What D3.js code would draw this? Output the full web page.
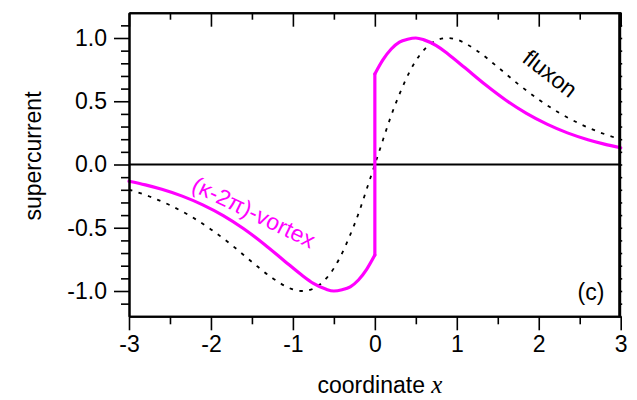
<!DOCTYPE html>
<html>
<head>
<meta charset="utf-8">
<script src="https://cdn.jsdelivr.net/npm/d3@7"></script>
<style>
  html, body { margin: 0; padding: 0; background: #fff; }
  svg { display: block; font-family: "Liberation Sans", Arial, sans-serif; }
</style>
</head>
<body>
<svg id="chart" width="637" height="400"></svg>
<script>
// Fluxon supercurrent profile (dotted black)
const fluxonX = [-3, -2.75, -2.5, -2.25, -2, -1.75, -1.5, -1.25, -1, -0.88, -0.75, -0.5, -0.25, 0,
                 0.25, 0.5, 0.75, 0.88, 1, 1.25, 1.5, 1.75, 2, 2.25, 2.5, 2.75, 3];
const fluxonY = [-0.198, -0.253, -0.322, -0.408, -0.513, -0.635, -0.770, -0.898, -0.987, -1.0, -0.981, -0.820, -0.475, 0,
                 0.475, 0.820, 0.981, 1.0, 0.987, 0.898, 0.770, 0.635, 0.513, 0.408, 0.322, 0.253, 0.198];

// (κ-2π)-vortex supercurrent, left branch (x < 0) and right branch (x > 0)
const vortexLeftX = [-3, -2.8, -2.6, -2.35, -2.1, -1.85, -1.6, -1.35, -1.1, -0.9, -0.75, -0.6, -0.5, -0.4, -0.3, -0.2, -0.1, 0];
const vortexLeftY = [-0.132, -0.161, -0.196, -0.250, -0.319, -0.404, -0.508, -0.630, -0.764, -0.870, -0.940, -0.985, -1.0, -0.990, -0.967, -0.913, -0.829, -0.716];
const vortexRightX = [0, 0.1, 0.2, 0.3, 0.4, 0.5, 0.6, 0.75, 0.9, 1.1, 1.35, 1.6, 1.85, 2.1, 2.35, 2.6, 2.8, 3];
const vortexRightY = [0.716, 0.829, 0.913, 0.967, 0.990, 1.0, 0.985, 0.940, 0.870, 0.764, 0.630, 0.508, 0.404, 0.319, 0.250, 0.196, 0.161, 0.132];

// Axis ticks
const xMajorTicks = [-3, -2, -1, 0, 1, 2, 3];
const xMinorTicks = [-2.5, -1.5, -0.5, 0.5, 1.5, 2.5];
const yMajorTicks = [-1, -0.5, 0, 0.5, 1];
const yTickLabels = ["-1.0", "-0.5", "0.0", "0.5", "1.0"];
const yMinorTicks = [-1.1, -0.9, -0.8, -0.7, -0.6, -0.4, -0.3, -0.2, -0.1,
                     0.1, 0.2, 0.3, 0.4, 0.6, 0.7, 0.8, 0.9, 1.1];

const W = 637, H = 400;
const margin = { left: 129, right: 16.3, top: 12.7, bottom: 83.7 };
const svg = d3.select("#chart");

const x = d3.scaleLinear().domain([-3, 3]).range([margin.left, W - margin.right]);
const y = d3.scaleLinear().domain([-1.2, 1.2]).range([H - margin.bottom, margin.top]);

const FS = 23;
const FONT = "Liberation Sans, Arial, sans-serif";

// zero line
svg.append("line")
  .attr("x1", x(-3)).attr("x2", x(3))
  .attr("y1", y(0)).attr("y2", y(0))
  .attr("stroke", "#000").attr("stroke-width", 2);

// fluxon curve
const zipped = (xs, ys) => xs.map((v, i) => [v, ys[i]]);
const line = d3.line().x(d => x(d[0])).y(d => y(d[1])).curve(d3.curveMonotoneX);

svg.append("path")
  .datum(zipped(fluxonX, fluxonY))
  .attr("d", line)
  .attr("fill", "none")
  .attr("stroke", "#000")
  .attr("stroke-width", 1.8)
  .attr("stroke-dasharray", "3.5,6.5");

// vortex curve: two smooth branches joined by the jump at x = 0
const leftPts = zipped(vortexLeftX, vortexLeftY);
const rightPts = zipped(vortexRightX, vortexRightY);
const vortexG = svg.append("g")
  .attr("fill", "none")
  .attr("stroke", "#ff00ff")
  .attr("stroke-width", 3.2)
  .attr("stroke-linejoin", "round")
  .attr("stroke-linecap", "round");
vortexG.append("path").datum(leftPts).attr("d", line);
vortexG.append("path").datum(rightPts).attr("d", line);
vortexG.append("path")
  .datum([leftPts[leftPts.length - 1], rightPts[0]])
  .attr("d", d3.line().x(d => x(d[0])).y(d => y(d[1])));

// axes
const styleAxis = g => {
  g.select(".domain").attr("stroke", "#000").attr("stroke-width", 2);
  g.selectAll(".tick line").attr("stroke", "#000").attr("stroke-width", 1.6);
};
const styleLabels = g => g.selectAll("text")
  .attr("font-size", FS).attr("fill", "#000").attr("font-family", FONT);

// bottom: major ticks with labels, pointing out
svg.append("g")
  .attr("transform", `translate(0,${y(-1.2)})`)
  .call(d3.axisBottom(x).tickValues(xMajorTicks).tickSize(14).tickSizeOuter(0).tickPadding(5)
        .tickFormat(d => String(d)))
  .call(styleAxis)
  .call(styleLabels);
svg.append("g")
  .attr("transform", `translate(0,${y(-1.2)})`)
  .call(d3.axisBottom(x).tickValues(xMinorTicks).tickSize(8).tickSizeOuter(0).tickFormat(""))
  .call(styleAxis);

// top: ticks pointing in
svg.append("g")
  .attr("transform", `translate(0,${y(1.2)})`)
  .call(d3.axisTop(x).tickValues(xMajorTicks).tickSize(-14).tickSizeOuter(0).tickFormat(""))
  .call(styleAxis);
svg.append("g")
  .attr("transform", `translate(0,${y(1.2)})`)
  .call(d3.axisTop(x).tickValues(xMinorTicks).tickSize(-7).tickSizeOuter(0).tickFormat(""))
  .call(styleAxis);

// left: ticks pointing out
svg.append("g")
  .attr("transform", `translate(${x(-3)},0)`)
  .call(d3.axisLeft(y).tickValues(yMajorTicks).tickSize(15).tickSizeOuter(0).tickPadding(7)
        .tickFormat((d, i) => yTickLabels[i]))
  .call(styleAxis)
  .call(styleLabels);
svg.append("g")
  .attr("transform", `translate(${x(-3)},0)`)
  .call(d3.axisLeft(y).tickValues(yMinorTicks).tickSize(8).tickSizeOuter(0).tickFormat(""))
  .call(styleAxis);

// right: short ticks straddling the line
svg.append("g")
  .attr("transform", `translate(${x(3) - 1.5},0)`)
  .call(d3.axisRight(y).tickValues(yMajorTicks.concat(yMinorTicks)).tickSize(3).tickSizeOuter(0).tickFormat(""))
  .call(styleAxis)
  .call(g => g.select(".domain").attr("stroke-width", 3));

// axis titles
svg.append("text")
  .attr("x", 380).attr("y", 393)
  .attr("text-anchor", "middle")
  .attr("font-size", FS)
  .attr("fill", "#000")
  .call(t => {
    t.append("tspan").text("coordinate ");
    t.append("tspan").attr("font-family", "Liberation Serif, Times New Roman, serif")
      .attr("font-style", "italic").attr("font-size", FS + 2).text("x");
  });

svg.append("text")
  .attr("transform", "translate(41,156) rotate(-90)")
  .attr("text-anchor", "middle")
  .attr("font-size", FS)
  .attr("fill", "#000")
  .text("supercurrent");

// curve labels
svg.append("text")
  .attr("transform", "translate(549,75) rotate(38)")
  .attr("text-anchor", "middle")
  .attr("dominant-baseline", "middle")
  .attr("font-size", FS)
  .attr("fill", "#000")
  .text("fluxon");

svg.append("text")
  .attr("transform", "translate(253,214) rotate(26)")
  .attr("text-anchor", "middle")
  .attr("dominant-baseline", "middle")
  .attr("font-size", FS)
  .attr("fill", "#ff00ff")
  .text("(κ-2π)-vortex");

// panel tag
svg.append("text")
  .attr("x", 591).attr("y", 300)
  .attr("text-anchor", "middle")
  .attr("font-size", FS)
  .attr("fill", "#000")
  .text("(c)");
</script>
</body>
</html>
